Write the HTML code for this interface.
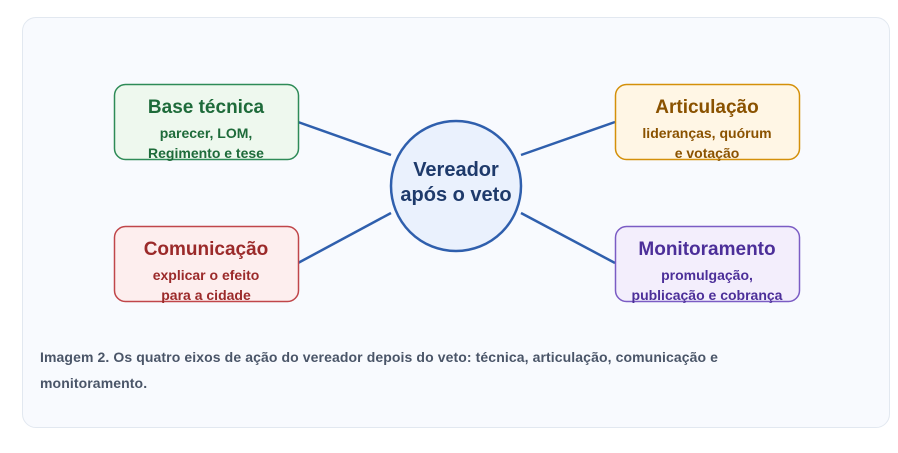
<!DOCTYPE html>
<html><head><meta charset="utf-8"><style>
html,body{margin:0;padding:0;background:#fff;width:898px;height:453px;overflow:hidden}
.card{position:absolute;left:22px;top:17px;width:866px;height:409px;border:1px solid #e2e8f0;border-radius:14px;background:#f8fafe}
svg{position:absolute;left:0;top:0}
text{font-family:"Liberation Sans",sans-serif;font-weight:bold}
.cap{position:absolute;left:40px;top:344px;width:740px;font:bold 14px/26px "Liberation Sans",sans-serif;color:#4a5568;letter-spacing:0.1px}
</style></head><body>
<div class="card"></div>
<svg width="898" height="453">
<g stroke="#2f5fad" stroke-width="2.5">
<line x1="298" y1="122" x2="391" y2="155"/><line x1="298" y1="263" x2="391" y2="213"/>
<line x1="521" y1="155" x2="615" y2="122"/><line x1="521" y1="213" x2="615" y2="263"/>
</g>
<rect x="114.5" y="84.5" width="184" height="75" rx="11" fill="#eef8ee" stroke="#2e8b57" stroke-width="1.5"/>
<rect x="615.5" y="84.5" width="184" height="75" rx="11" fill="#fff6e5" stroke="#d4900a" stroke-width="1.5"/>
<rect x="114.5" y="226.5" width="184" height="75" rx="11" fill="#fdeeee" stroke="#c0464a" stroke-width="1.5"/>
<rect x="615.5" y="226.5" width="184" height="75" rx="11" fill="#f3eefc" stroke="#7b5cc4" stroke-width="1.5"/>
<circle cx="456" cy="186" r="65" fill="#eaf1fd" stroke="#2f5fad" stroke-width="2.5"/>
<g text-anchor="middle">
<text x="206" y="113" font-size="19" fill="#1e6b3a">Base técnica</text>
<text x="206" y="138" font-size="14" fill="#1e6b3a">parecer, LOM,</text>
<text x="206" y="158" font-size="14" fill="#1e6b3a">Regimento e tese</text>
<text x="707" y="113" font-size="19" fill="#8a5200">Articulação</text>
<text x="707" y="138" font-size="14" fill="#8a5200">lideranças, quórum</text>
<text x="707" y="158" font-size="14" fill="#8a5200">e votação</text>
<text x="206" y="255" font-size="19" fill="#9b2a2a">Comunicação</text>
<text x="206" y="280" font-size="14" fill="#9b2a2a">explicar o efeito</text>
<text x="206" y="300" font-size="14" fill="#9b2a2a">para a cidade</text>
<text x="707" y="255" font-size="19" fill="#4c2f99">Monitoramento</text>
<text x="707" y="280" font-size="14" fill="#4c2f99">promulgação,</text>
<text x="707" y="300" font-size="14" fill="#4c2f99">publicação e cobrança</text>
<text x="456" y="176" font-size="20" fill="#1e3a6b">Vereador</text>
<text x="456" y="201" font-size="20" fill="#1e3a6b">após o veto</text>
</g>
</svg>
<div class="cap">Imagem 2. Os quatro eixos de ação do vereador depois do veto: técnica, articulação, comunicação e monitoramento.</div>
</body></html>
